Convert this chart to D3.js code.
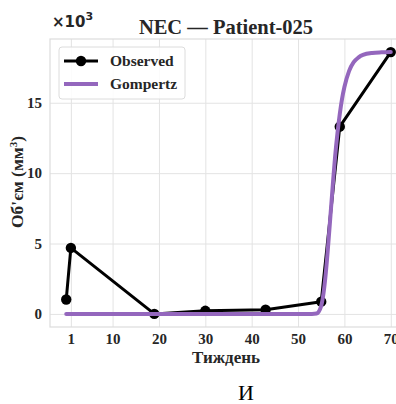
<!DOCTYPE html>
<html><head><meta charset="utf-8">
<script src="https://cdn.jsdelivr.net/npm/d3@7"></script>
<style>body{margin:0;background:#fff}svg{display:block}</style>
</head><body>
<svg id="c" width="396" height="404"></svg>
<script>
const obsWeeks = [0, 1, 19, 30, 43, 55, 59, 70];
const obsVolume = [1.02, 4.69, 0.0, 0.22, 0.3, 0.87, 13.3, 18.6];
const gompWeeks = [0, 20, 40, 50, 53, 54, 55, 55.5, 56, 56.5, 57, 57.5, 58, 58.5, 59, 59.5, 60, 61, 62, 63, 64, 66, 68, 70];
const gompVolume = [0, 0, 0, 0, 0.0, 0.03, 0.57, 1.48, 2.95, 4.89, 7.03, 9.19, 11.2, 12.83, 14.2, 15.3, 16.12, 17.25, 17.88, 18.21, 18.4, 18.54, 18.58, 18.6];
const xTicks = [1, 10, 20, 30, 40, 50, 60, 70];
const yTicks = [0, 5, 10, 15];
const seriesNames = ["Observed", "Gompertz"];

const svg = d3.select("#c");
const L = 50, R = 407, T = 39, B = 327;
const x = d3.scaleLinear().domain([-3.5, 73.5]).range([L, R]);
const y = d3.scaleLinear().domain([-0.93, 19.53]).range([B, T]);
const serif = "'Liberation Serif','Times New Roman',serif";
const tc = "#262626";

svg.append("defs").append("clipPath").attr("id","pc")
  .append("rect").attr("x",L).attr("y",T).attr("width",R-L).attr("height",B-T);

// grid
const gx = svg.append("g").attr("transform",`translate(0,${B})`)
  .call(d3.axisBottom(x).tickValues(xTicks).tickSize(-(B-T)).tickFormat(d=>d).tickPadding(6));
const gy = svg.append("g").attr("transform",`translate(${L},0)`)
  .call(d3.axisLeft(y).tickValues(yTicks).tickSize(-(R-L)).tickFormat(d=>d).tickPadding(8));
[gx, gy].forEach(g=>{
  g.select(".domain").remove();
  g.selectAll(".tick line").attr("stroke","#e3e3e3").attr("stroke-width",1);
  g.selectAll(".tick text").attr("fill",tc).style("font-family",serif)
   .style("font-weight","bold").style("font-size","15px");
});
svg.append("rect").attr("x",L).attr("y",T).attr("width",R-L).attr("height",B-T)
  .attr("fill","none").attr("stroke","#dcdcdc").attr("stroke-width",1.2);

const plot = svg.append("g").attr("clip-path","url(#pc)");
const obs = obsWeeks.map((w,i)=>[w, obsVolume[i]]);
const gomp = gompWeeks.map((w,i)=>[w, gompVolume[i]]);

plot.append("path").datum(obs)
  .attr("d", d3.line().x(d=>x(d[0])).y(d=>y(d[1])))
  .attr("fill","none").attr("stroke","#000").attr("stroke-width",3).attr("stroke-linejoin","round");
plot.selectAll("circle.o").data(obs).enter().append("circle")
  .attr("cx",d=>x(d[0])).attr("cy",d=>y(d[1])).attr("r",5.2).attr("fill","#000");
plot.append("path").datum(gomp)
  .attr("d", d3.line().curve(d3.curveMonotoneX).x(d=>x(d[0])).y(d=>y(d[1])))
  .attr("fill","none").attr("stroke","#9467bd").attr("stroke-width",4).attr("stroke-linejoin","round").attr("stroke-linecap","round");

// title
svg.append("text").attr("x",226).attr("y",34).attr("text-anchor","middle")
  .style("font-family",serif).style("font-weight","bold").style("font-size","20.5px").attr("fill",tc)
  .text("NEC — Patient-025");
// offset
const off = svg.append("text").attr("x",52).attr("y",27)
  .style("font-family","'DejaVu Sans',sans-serif").style("font-weight","bold").style("font-size","15px").attr("fill",tc);
off.append("tspan").text("×10");
off.append("tspan").attr("dy",-7).style("font-size","11px").text("3");

// axis labels
svg.append("text").attr("x",226).attr("y",363).attr("text-anchor","middle")
  .style("font-family",serif).style("font-weight","bold").style("font-size","17px").attr("fill",tc)
  .text("Тиждень");
const yl = svg.append("text").attr("transform","translate(23,182) rotate(-90)").attr("text-anchor","middle")
  .style("font-family",serif).style("font-weight","bold").style("font-size","17.5px").attr("fill",tc);
yl.append("tspan").text("Об'єм (мм");
yl.append("tspan").attr("dy",-6).style("font-size","11px").text("3");
yl.append("tspan").attr("dy",6).text(")");

// legend
const lg = svg.append("g");
lg.append("rect").attr("x",59).attr("y",47).attr("width",126).attr("height",52).attr("rx",3)
  .attr("fill","#fff").attr("fill-opacity",0.85).attr("stroke","#dcdcdc");
[0,1].forEach(i=>{
  const yy = 61 + i*23;
  lg.append("line").attr("x1",64).attr("x2",98).attr("y1",yy).attr("y2",yy)
    .attr("stroke", i===0?"#000":"#9467bd").attr("stroke-width", i===0?3:4);
  if(i===0) lg.append("circle").attr("cx",81).attr("cy",yy).attr("r",5.2).attr("fill","#000");
  lg.append("text").attr("x",110).attr("y",yy+5).style("font-family",serif).style("font-weight","bold")
    .style("font-size","15.5px").attr("fill",tc).text(seriesNames[i]);
});

// bottom caption
svg.append("text").attr("x",246).attr("y",400).attr("text-anchor","middle")
  .style("font-family",serif).style("font-size","22px").attr("fill","#000").text("И");
</script>
</body></html>
